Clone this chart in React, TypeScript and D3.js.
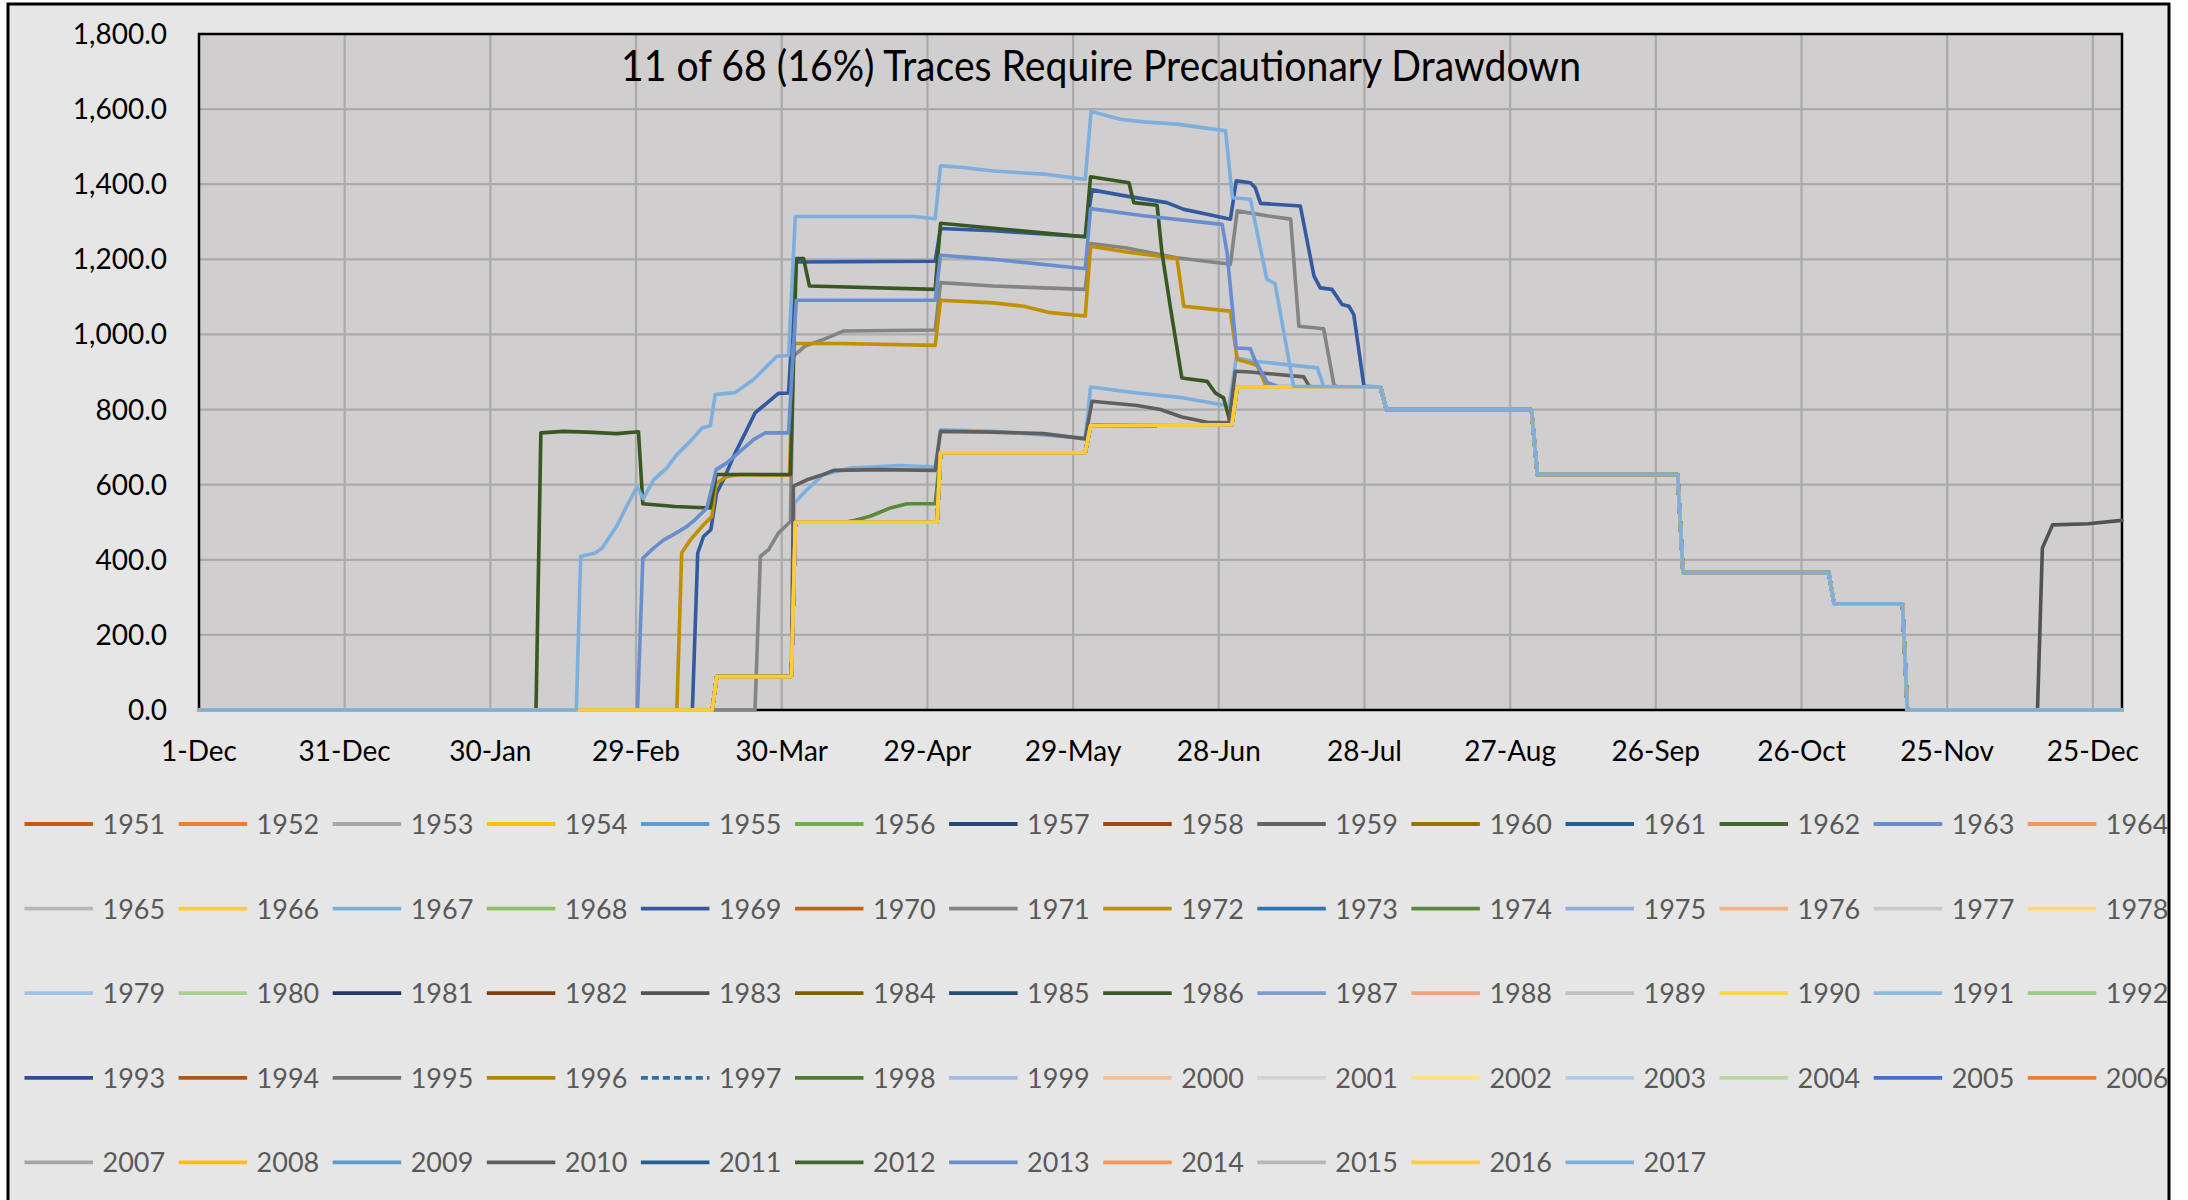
import React from 'react';
import * as d3 from 'd3';

// day 0 = 1-Dec, axis runs to 31-Dec of the following (leap) year
const YEARS = d3.range(1951, 2018);

const SERIES_COLORS = [
  '#c55a11', '#ed7d31', '#a5a5a5', '#ffc000', '#5b9bd5', '#70ad47', '#264478',
  '#9e480e', '#636363', '#997300', '#255e91', '#43682b', '#698ed0', '#f1975a',
  '#b7b7b7', '#ffcd33', '#7cafdd', '#8cc168', '#335aa1', '#c8601a', '#848484',
  '#c09000', '#2e75b6', '#5a8a39', '#8faadc', '#f4b183', '#c9c9c9', '#ffd966',
  '#9dc3e6', '#a9d18e', '#203864', '#843c0c', '#525252', '#7f6000', '#1f4e79',
  '#385723', '#7c9cd6', '#f2a475', '#c0c0c0', '#ffd34d', '#8cb9e2', '#9bca7e',
  '#2f4f8f', '#a65822', '#747474', '#b38600', '#3070aa', '#4f7a32', '#a2b9e2',
  '#f6be98', '#d2d2d2', '#ffe080', '#adcdea', '#b8d6a3', '#4472c4', '#ed7d31',
  '#a5a5a5', '#ffc000', '#5b9bd5', '#5f5f5f', '#255e91', '#43682b', '#698ed0',
  '#f1975a', '#b7b7b7', '#ffcd33', '#7cafdd',
];
const DASHED_YEARS = [1997];

const Y_TICKS = [0, 200, 400, 600, 800, 1000, 1200, 1400, 1600, 1800];
const X_TICK_DAYS = [0, 30, 60, 90, 120, 150, 180, 210, 240, 270, 300, 330, 360, 390];
const X_TICK_LABELS = ['1-Dec', '31-Dec', '30-Jan', '29-Feb', '30-Mar', '29-Apr', '29-May',
  '28-Jun', '28-Jul', '27-Aug', '26-Sep', '26-Oct', '25-Nov', '25-Dec'];

const TITLE = '11 of 68 (16%) Traces Require Precautionary Drawdown';

// [day, value]
const BASE = [[0, 0], [105.7, 0], [106.6, 89], [122, 89], [122.8, 500], [152, 500], [152.7, 685],
  [182.5, 685], [183.6, 757], [212.7, 760], [213.8, 860]];
const TAIL = [[243.3, 860], [244.5, 800], [274.4, 800], [275.6, 627], [304.5, 627], [305.6, 366],
  [335.6, 366], [336.7, 283], [350.8, 283], [351.8, 0]];
const END_ZERO = [[396, 0]];
const END_1983 = [[378.6, 0], [379.6, 431], [381.7, 493], [389, 496], [396, 505]];

const TRACE_2017 = [[0, 0], [77.7, 0], [78.6, 409], [81.6, 418], [83, 431], [86, 489], [88.4, 551],
  [90.2, 594], [91.5, 563], [93.6, 613], [96.3, 644], [98.4, 680], [101.2, 716], [103.6, 751],
  [105.3, 757], [106.3, 840], [110.4, 845], [114.2, 880], [115.6, 898], [119, 942], [121.4, 944],
  [122.8, 1314], [147.2, 1314], [151.6, 1308], [152.7, 1449], [156.8, 1445], [163.6, 1435],
  [173.9, 1427], [182.5, 1413], [183.7, 1594], [189.7, 1573], [194.5, 1566], [201.4, 1560],
  [211.4, 1542], [212.8, 1364], [216.5, 1360], [219.9, 1147], [221.6, 1135], [225.4, 862]];
const TRACE_1986 = [[0, 0], [69.4, 0], [70.4, 738], [75, 742], [80, 740], [86, 736], [90.5, 741],
  [91.4, 549], [98, 542], [105.3, 538], [106.5, 627], [121.8, 627], [123, 1202], [124.5, 1202],
  [125.7, 1129], [151.6, 1120], [152.7, 1296], [182.5, 1260], [183.6, 1420], [191.5, 1404],
  [192.5, 1351], [197.3, 1344], [198.3, 1218], [200, 1075], [202.4, 884], [207.6, 875],
  [209.3, 844], [211, 831], [212.4, 764], [213.8, 860]];
const TRACE_2013 = [[0, 0], [90.3, 0], [91.4, 404], [93.6, 431], [95.7, 453], [97.7, 467],
  [100.5, 489], [102.5, 511], [104.6, 538], [106.5, 640], [108.7, 658], [111.5, 689],
  [114.2, 720], [116.6, 738], [121.4, 738], [123, 1091], [151.6, 1091], [152.7, 1211],
  [163.6, 1200], [182.5, 1175], [183.6, 1335], [194.5, 1316], [210.7, 1293], [211.7, 1218],
  [213.6, 964], [216.5, 962], [217.5, 930], [220, 872], [222, 862], [228.2, 860]];
const TRACE_1972 = [[0, 0], [98.4, 0], [99.4, 419], [101.2, 453], [103.6, 489], [105.6, 515],
  [106.5, 604], [108.7, 622], [111.5, 627], [121.6, 625], [122.4, 976], [132, 976],
  [151.6, 971], [152.7, 1091], [163.6, 1084], [169.8, 1075], [175.3, 1058], [182.5, 1049],
  [183.6, 1235], [190.7, 1220], [201.4, 1202], [202.8, 1075], [212.4, 1062], [213.8, 933],
  [216.5, 924], [217.9, 917], [219.6, 867], [220.5, 860]];
const TRACE_1969 = [[0, 0], [101.6, 0], [102.7, 418], [103.9, 462], [105.4, 480], [106.6, 578],
  [108, 613], [110.4, 684], [112.5, 738], [114.5, 791], [117, 818], [119.3, 843], [121.4, 844],
  [123, 1193], [151.6, 1195], [152.7, 1282], [163.6, 1276], [182.5, 1260], [183.9, 1385],
  [190.7, 1369], [199.3, 1351], [202.8, 1333], [207.6, 1320], [212.4, 1307], [213.6, 1409],
  [216.5, 1404], [217.5, 1391], [218.6, 1349], [226.8, 1342], [229.6, 1156], [230.9, 1124],
  [233.3, 1120], [235.4, 1080], [236.8, 1075], [237.8, 1053], [239.9, 862]];
const TRACE_1971 = [[0, 0], [114.5, 0], [115.6, 409], [117.3, 427], [119.3, 471], [121.8, 502],
  [122.4, 942], [124.8, 969], [128.6, 987], [132.7, 1009], [151.6, 1012], [152.7, 1138],
  [163.6, 1129], [182.5, 1120], [183.6, 1242], [190.7, 1231], [201.4, 1204], [212.4, 1187],
  [213.8, 1329], [219.9, 1316], [224.8, 1307], [226.5, 1022], [231.6, 1015], [233.7, 867],
  [234.3, 860]];
const TRACE_2010 = [[0, 0], [105.7, 0], [106.6, 89], [122, 89], [122.4, 596], [125.2, 613],
  [128.6, 627], [130.7, 638], [140.3, 640], [151.6, 638], [152.7, 742], [163.6, 740],
  [173.9, 736], [182.5, 722], [183.9, 822], [193.2, 811], [198, 800], [202.4, 780],
  [207.6, 766], [212.1, 765], [213.4, 902], [216.5, 900], [227.5, 887], [228.5, 865], [229, 860]];
const TRACE_1967 = [[0, 0], [105.7, 0], [106.6, 89], [122, 89], [122.6, 551], [125.2, 587],
  [128.6, 627], [134.1, 644], [144.4, 651], [151.6, 647], [152.7, 746], [163.6, 742],
  [182.5, 724], [183.6, 860], [193.2, 844], [202.8, 831], [210.7, 813], [212.1, 809],
  [213.6, 938], [216.5, 930], [230.3, 911], [231.6, 862], [232, 860]];
const TRACE_1974 = [[0, 0], [105.7, 0], [106.6, 89], [122, 89], [122.8, 500], [133, 500],
  [135.1, 505], [138.2, 516], [142.4, 538], [145.8, 549], [151.6, 549], [152.7, 685],
  [182.5, 685], [183.6, 757], [212.7, 760], [213.8, 860]];

const OWN_TRACES: Record<number, number[][]> = {
  1967: TRACE_1967, 1969: TRACE_1969, 1971: TRACE_1971, 1972: TRACE_1972, 1974: TRACE_1974,
  1986: TRACE_1986, 2010: TRACE_2010, 2013: TRACE_2013, 2017: TRACE_2017,
};

const W = 2188;
const H = 1200;
const PLOT = { left: 199, right: 2122, top: 34, bottom: 710 };
const FONT = "Lato, 'Open Sans', sans-serif";

const traceFor = (year: number): number[][] => {
  const head = OWN_TRACES[year] || BASE;
  const end = year === 1983 ? END_1983 : END_ZERO;
  return [...head, ...TAIL, ...end];
};

const App: React.FC = () => {
  const x = d3.scaleLinear().domain([0, 396]).range([PLOT.left, PLOT.right]);
  const y = d3.scaleLinear().domain([0, 1800]).range([PLOT.bottom, PLOT.top]);
  const line = d3.line<number[]>().x(d => x(d[0])).y(d => y(d[1]));

  const legendX0 = 24.5;
  const colW = 154.1;
  const rowY0 = 824;
  const rowH = 84.6;
  const perRow = 14;

  return (
    <div style={{ position: 'absolute', left: 0, top: 0 }}>
      <svg width={W} height={H} style={{ display: 'block', background: '#fff' }}>
        <rect x={8} y={4} width={2161} height={1300} fill="#e7e6e6" stroke="#000" strokeWidth={3} />
        <rect x={PLOT.left} y={PLOT.top} width={PLOT.right - PLOT.left} height={PLOT.bottom - PLOT.top} fill="#d0cece" />

        {Y_TICKS.filter(t => t > 0 && t < 1800).map(t => (
          <line key={'gy' + t} x1={PLOT.left} x2={PLOT.right} y1={y(t)} y2={y(t)} stroke="#abaaaa" strokeWidth={2.2} />
        ))}
        {X_TICK_DAYS.filter(d => d > 0).map(d => (
          <line key={'gx' + d} x1={x(d)} x2={x(d)} y1={PLOT.top} y2={PLOT.bottom} stroke="#abaaaa" strokeWidth={2.2} />
        ))}
        <rect x={PLOT.left} y={PLOT.top} width={PLOT.right - PLOT.left} height={PLOT.bottom - PLOT.top}
          fill="none" stroke="#000" strokeWidth={2.5} />

        {Y_TICKS.map(t => (
          <text key={'yl' + t} x={167} y={y(t) + 10} textAnchor="end" fontFamily={FONT} fontSize={28} fill="#000">
            {d3.format(',.1f')(t)}
          </text>
        ))}
        {X_TICK_DAYS.map((d, i) => (
          <text key={'xl' + d} x={x(d)} y={761} textAnchor="middle" fontFamily={FONT} fontSize={28} fill="#000">
            {X_TICK_LABELS[i]}
          </text>
        ))}

        <text x={1101} y={81} textAnchor="middle" fontFamily={FONT} fontSize={43} fill="#000"
          textLength={960} lengthAdjust="spacingAndGlyphs">
          {TITLE}
        </text>

        <g fill="none" strokeLinejoin="round" strokeLinecap="round">
          {YEARS.map((yr, i) => (
            <path key={'s' + yr} d={line(traceFor(yr)) || ''} stroke={SERIES_COLORS[i]} strokeWidth={3.6}
              strokeDasharray={DASHED_YEARS.includes(yr) ? '7,4' : undefined} />
          ))}
        </g>

        {YEARS.map((yr, i) => {
          const lx = legendX0 + (i % perRow) * colW;
          const ly = rowY0 + Math.floor(i / perRow) * rowH;
          return (
            <g key={'lg' + yr}>
              <line x1={lx} x2={lx + 68.5} y1={ly} y2={ly} stroke={SERIES_COLORS[i]} strokeWidth={3.8}
                strokeDasharray={DASHED_YEARS.includes(yr) ? '7,4' : undefined} />
              <text x={lx + 78} y={ly + 10} fontFamily={FONT} fontSize={27} fill="#595959">{yr}</text>
            </g>
          );
        })}
      </svg>
    </div>
  );
};

export default App;
